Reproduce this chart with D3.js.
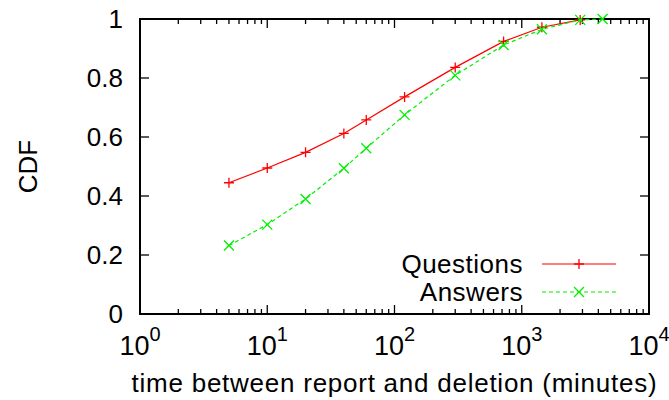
<!DOCTYPE html>
<html>
<head>
<meta charset="utf-8">
<script src="https://cdn.jsdelivr.net/npm/d3@7/dist/d3.min.js"></script>
<style>
  html, body { margin: 0; padding: 0; background: #fff; }
  svg { display: block; }
  text { font-family: "Liberation Sans", Arial, Helvetica, sans-serif; fill: #000; }
</style>
</head>
<body>
<div id="chart"></div>
<script>
// Deletion delay in minutes at each sample point
const questionMinutes = [5, 10, 20, 40, 60, 120, 300, 720, 1440, 2880];
const questionCDF     = [0.445, 0.495, 0.548, 0.612, 0.658, 0.736, 0.836, 0.924, 0.972, 0.997];
const answerMinutes   = [5, 10, 20, 40, 60, 120, 300, 720, 1440, 2880, 4320];
const answerCDF       = [0.232, 0.303, 0.390, 0.494, 0.562, 0.675, 0.809, 0.912, 0.965, 0.997, 1.0];

const xTickExponents = [0, 1, 2, 3, 4];
const yTickValues = [0, 0.2, 0.4, 0.6, 0.8, 1];
const seriesNames = ["Questions", "Answers"];

const W = 669, H = 400;
const margin = { left: 140, right: 20, top: 19, bottom: 86 };
const x0 = margin.left, x1 = W - margin.right;
const y0 = H - margin.bottom, y1 = margin.top;

const svg = d3.select("#chart").append("svg")
  .attr("width", W).attr("height", H);

const x = d3.scaleLog().domain([1, 1e4]).range([x0, x1]);
const y = d3.scaleLinear().domain([0, 1]).range([y0, y1]);

const FS = 26;

// Tick marks (inward, mirrored on all sides)
const ticks = svg.append("g").attr("stroke", "#000").attr("stroke-width", 1.3);
const minor = [];
for (let e = 0; e < 4; e++) for (let m = 2; m <= 9; m++) minor.push(m * Math.pow(10, e));
const major = xTickExponents.map(e => Math.pow(10, e));
major.forEach(v => {
  ticks.append("line").attr("x1", x(v)).attr("x2", x(v)).attr("y1", y0).attr("y2", y0 - 9);
  ticks.append("line").attr("x1", x(v)).attr("x2", x(v)).attr("y1", y1).attr("y2", y1 + 9);
});
minor.forEach(v => {
  ticks.append("line").attr("x1", x(v)).attr("x2", x(v)).attr("y1", y0).attr("y2", y0 - 5);
  ticks.append("line").attr("x1", x(v)).attr("x2", x(v)).attr("y1", y1).attr("y2", y1 + 5);
});
yTickValues.forEach(v => {
  ticks.append("line").attr("x1", x0).attr("x2", x0 + 9).attr("y1", y(v)).attr("y2", y(v));
  ticks.append("line").attr("x1", x1).attr("x2", x1 - 9).attr("y1", y(v)).attr("y2", y(v));
});

// Frame
svg.append("rect").attr("x", x0).attr("y", y1)
  .attr("width", x1 - x0).attr("height", y0 - y1)
  .attr("fill", "none").attr("stroke", "#000").attr("stroke-width", 2);

// Y tick labels
svg.append("g").selectAll("text").data(yTickValues).join("text")
  .attr("x", x0 - 17).attr("y", d => y(d)).attr("dy", "0.36em")
  .attr("text-anchor", "end").attr("font-size", FS)
  .text(d => d3.format("~g")(d));

// X tick labels as powers of ten
const xl = svg.append("g").selectAll("text").data(xTickExponents).join("text")
  .attr("x", d => x(Math.pow(10, d))).attr("y", y0 + 41)
  .attr("text-anchor", "middle").attr("font-size", FS);
xl.append("tspan").attr("font-size", 27).text("10");
xl.append("tspan").attr("dy", -14).attr("font-size", 20).text(d => d);

// Axis titles
svg.append("text").attr("x", (x0 + x1) / 2).attr("y", 392)
  .attr("text-anchor", "middle").attr("font-size", FS)
  .attr("letter-spacing", "0.75px")
  .text("time between report and deletion (minutes)");
svg.append("text")
  .attr("transform", `translate(37,${(y0 + y1) / 2}) rotate(-90)`)
  .attr("text-anchor", "middle").attr("font-size", FS)
  .text("CDF");

// Series
const series = [
  { name: seriesNames[0], xs: questionMinutes, ys: questionCDF, color: "#ff0000", dash: null, marker: "plus" },
  { name: seriesNames[1], xs: answerMinutes, ys: answerCDF, color: "#00f000", dash: "4,3", marker: "cross" }
];

const line = d3.line().x(d => x(d[0])).y(d => y(d[1]));

function drawMarker(g, cx, cy, type, color) {
  const s = 5;
  const p = type === "plus"
    ? `M${cx - s},${cy}H${cx + s}M${cx},${cy - s}V${cy + s}`
    : `M${cx - s},${cy - s}L${cx + s},${cy + s}M${cx - s},${cy + s}L${cx + s},${cy - s}`;
  g.append("path").attr("d", p).attr("stroke", color).attr("stroke-width", 1.3).attr("fill", "none");
}

series.forEach(s => {
  const pts = s.xs.map((v, i) => [v, s.ys[i]]);
  const g = svg.append("g");
  g.append("path").datum(pts).attr("d", line)
    .attr("fill", "none").attr("stroke", s.color).attr("stroke-width", 1.2)
    .attr("stroke-dasharray", s.dash);
  pts.forEach(p => drawMarker(g, x(p[0]), y(p[1]), s.marker, s.color));
});

// Legend
const legendRows = [264, 292];
series.forEach((s, i) => {
  const ly = legendRows[i];
  svg.append("text").attr("x", 523).attr("y", ly).attr("dy", "0.34em")
    .attr("text-anchor", "end").attr("font-size", FS)
    .attr("letter-spacing", "0.5px").text(s.name);
  svg.append("line").attr("x1", 542).attr("x2", 616).attr("y1", ly).attr("y2", ly)
    .attr("stroke", s.color).attr("stroke-width", 1.2).attr("stroke-dasharray", s.dash);
  drawMarker(svg, 579, ly, s.marker, s.color);
});
</script>
</body>
</html>
